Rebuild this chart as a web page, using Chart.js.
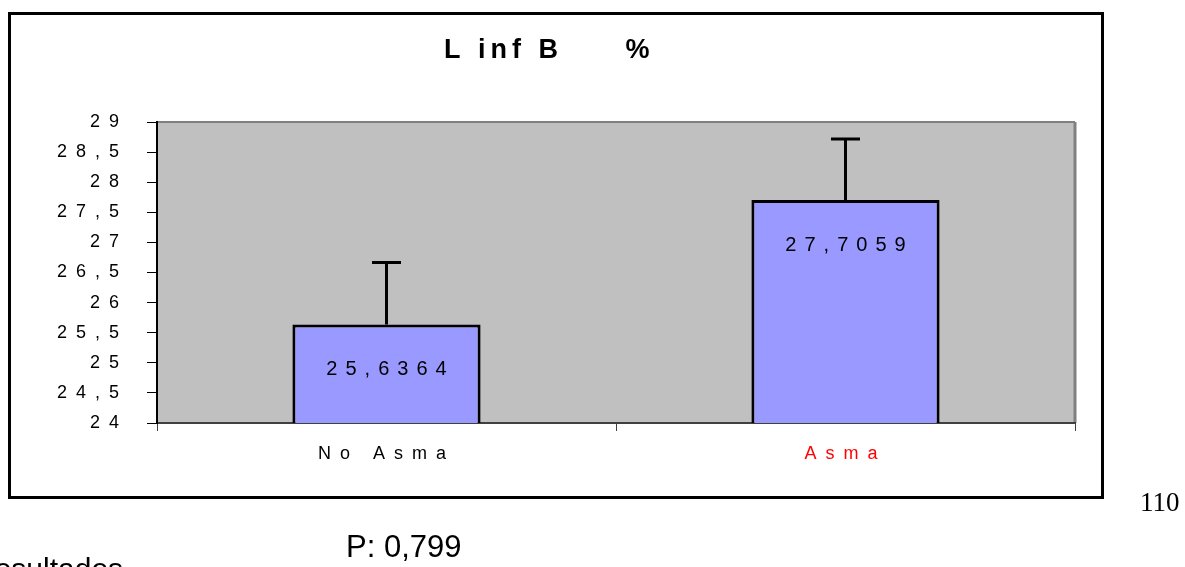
<!DOCTYPE html>
<html lang="es">
<head>
  <meta charset="UTF-8">
  <title>Linf B %</title>
  <script src="https://cdn.jsdelivr.net/npm/chart.js"></script>
  <style>
    body { margin: 0; width: 1185px; height: 567px; overflow: hidden; background: #fff; position: relative; font-family: "Liberation Sans", Arial, sans-serif; }
    .marco { position: absolute; left: 8px; top: 12px; width: 1096px; height: 487px; border: 3px solid #000; box-sizing: border-box; }
    #grafico { position: absolute; left: 0; top: 0; }
    .pagina { position: absolute; left: 1140px; top: 489px; font-family: "Liberation Serif", "Times New Roman", serif; font-size: 27px; line-height: 27px; }
    .pvalor { position: absolute; left: 346px; top: 531px; font-size: 31px; line-height: 31px; }
    .resultados { position: absolute; left: -27px; top: 554px; font-size: 30px; line-height: 30px; white-space: nowrap; }
  </style>
</head>
<body>
  <div class="marco"></div>
  <canvas id="grafico" width="1185" height="567"></canvas>
  <div class="pagina">110</div>
  <div class="pvalor">P: 0,799</div>
  <div class="resultados">Resultados</div>

  <script>
    // datos
    const titulo = 'L inf B     %';
    const categorias = ['No Asma', 'Asma'];
    const medias = [25.6364, 27.7059];
    const errores = [1.03, 1.01];
    const yTicks = [24, 24.5, 25, 25.5, 26, 26.5, 27, 27.5, 28, 28.5, 29];
    const coloresEtiquetas = ['#000000', '#FF0000'];

    const fuente = '"Liberation Sans", Arial, sans-serif';
    const coma = v => String(v).replace('.', ',');

    const extras = {
      id: 'extras',
      beforeDraw(chart) {
        const { ctx, chartArea: a } = chart;
        ctx.save();
        ctx.fillStyle = '#C0C0C0';
        ctx.fillRect(a.left, a.top, a.width, a.height);
        ctx.strokeStyle = '#808080';
        ctx.lineWidth = 2;
        ctx.beginPath();
        ctx.moveTo(a.left, a.top);
        ctx.lineTo(a.right, a.top);
        ctx.stroke();
        ctx.lineWidth = 3;
        ctx.beginPath();
        ctx.moveTo(a.right, a.top);
        ctx.lineTo(a.right, a.bottom);
        ctx.stroke();
        ctx.restore();
        ctx.letterSpacing = '9px';
      },
      afterDatasetsDraw(chart) {
        const ctx = chart.ctx;
        const y = chart.scales.y;
        const meta = chart.getDatasetMeta(0);
        ctx.save();
        // barras de error
        ctx.strokeStyle = '#000';
        ctx.lineWidth = 3;
        meta.data.forEach((bar, i) => {
          const top = y.getPixelForValue(medias[i] + errores[i]);
          ctx.beginPath();
          ctx.moveTo(bar.x, bar.y);
          ctx.lineTo(bar.x, top);
          ctx.moveTo(bar.x - 14.5, top);
          ctx.lineTo(bar.x + 14.5, top);
          ctx.stroke();
        });
        // etiquetas de valor
        ctx.letterSpacing = '8px';
        ctx.font = '20px ' + fuente;
        ctx.fillStyle = '#000';
        ctx.textAlign = 'left';
        ctx.textBaseline = 'alphabetic';
        meta.data.forEach((bar, i) => {
          const txt = coma(medias[i]);
          const w = ctx.measureText(txt).width - 8;
          ctx.fillText(txt, bar.x - w / 2, bar.y + 51);
        });
        ctx.restore();
      },
      afterDraw(chart) {
        const ctx = chart.ctx;
        ctx.save();
        ctx.letterSpacing = '5px';
        ctx.font = 'bold 27px ' + fuente;
        ctx.fillStyle = '#000';
        ctx.textAlign = 'left';
        ctx.textBaseline = 'alphabetic';
        ctx.fillText(titulo, 444, 58);
        ctx.restore();
      }
    };

    const chart = new Chart(document.getElementById('grafico').getContext('2d'), {
      type: 'bar',
      data: {
        labels: categorias,
        datasets: [{
          data: medias,
          backgroundColor: '#9999FF',
          borderColor: '#000000',
          borderWidth: 3,
          borderSkipped: false,
          barPercentage: 0.41,
          categoryPercentage: 1
        }]
      },
      options: {
        responsive: false,
        animation: false,
        layout: { padding: { left: 57, right: 110, top: 122, bottom: 84 } },
        plugins: { legend: { display: false }, tooltip: { enabled: false }, title: { display: false } },
        scales: {
          x: {
            grid: { drawOnChartArea: false, tickLength: 8, color: '#404040', offset: true },
            border: { color: '#404040', width: 2 },
            ticks: { color: coloresEtiquetas, font: { family: fuente, size: 18 }, padding: 12 },
            afterFit: s => { s.height = 60; }
          },
          y: {
            min: 24,
            max: 29,
            grid: { drawOnChartArea: false, tickLength: 10, color: '#000' },
            border: { color: '#000', width: 2 },
            ticks: { color: '#000', font: { family: fuente, size: 18 }, padding: 19, callback: v => coma(v) },
            afterBuildTicks: s => { s.ticks = yTicks.map(v => ({ value: v })); },
            afterFit: s => { s.width = 100; }
          }
        }
      },
      plugins: [extras]
    });
  </script>
</body>
</html>
